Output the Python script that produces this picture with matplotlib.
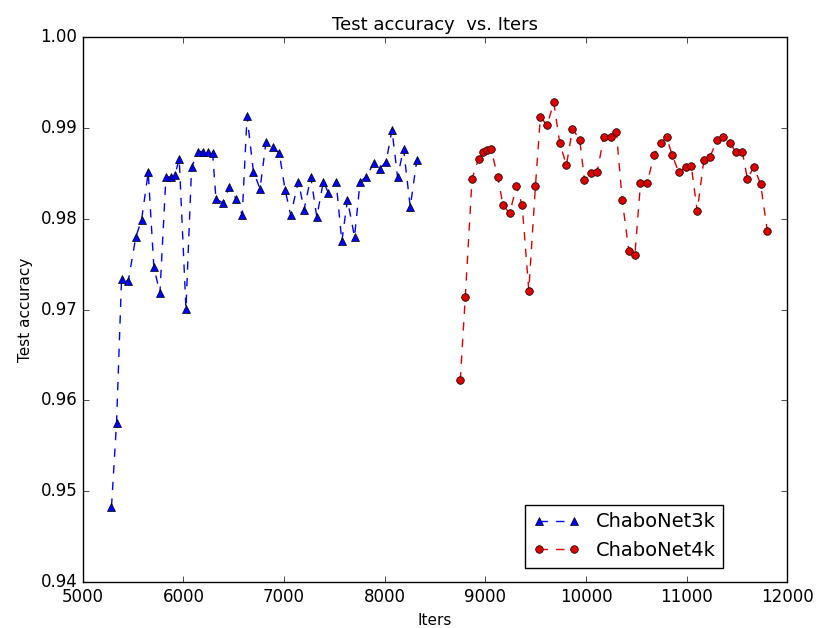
import matplotlib
matplotlib.use("Agg")
import matplotlib.pyplot as plt
from matplotlib.ticker import FormatStrFormatter

iters_3k = [5285, 5335, 5385, 5451, 5527, 5584, 5650, 5706, 5766, 5826, 5872, 5915,
            5958, 6025, 6081, 6147, 6197, 6247, 6290, 6323, 6396, 6456, 6522, 6584,
            6632, 6695, 6761, 6821, 6887, 6953, 7010, 7066, 7142, 7199, 7266, 7325,
            7391, 7441, 7517, 7574, 7630, 7700, 7756, 7816, 7889, 7949, 8015, 8072,
            8128, 8187, 8254, 8320]
acc_3k = [0.9483, 0.9575, 0.9734, 0.9731, 0.9780, 0.9799, 0.9851, 0.9747, 0.9718,
          0.9846, 0.9846, 0.9848, 0.9866, 0.9701, 0.9857, 0.9874, 0.9874, 0.9874,
          0.9872, 0.9822, 0.9817, 0.9835, 0.9822, 0.9804, 0.9913, 0.9852, 0.9833,
          0.9885, 0.9879, 0.9872, 0.9832, 0.9804, 0.9841, 0.9810, 0.9846, 0.9802,
          0.9841, 0.9828, 0.9841, 0.9775, 0.9821, 0.9780, 0.9841, 0.9846, 0.9861,
          0.9855, 0.9863, 0.9898, 0.9846, 0.9877, 0.9813, 0.9865]

iters_4k = [8751, 8801, 8868, 8934, 8977, 9017, 9057, 9123, 9176, 9242, 9309, 9366,
            9432, 9498, 9547, 9614, 9680, 9740, 9806, 9866, 9938, 9985, 10052, 10112,
            10177, 10244, 10303, 10360, 10426, 10486, 10542, 10609, 10675, 10741,
            10801, 10857, 10923, 10990, 11047, 11106, 11172, 11232, 11305, 11365,
            11431, 11488, 11554, 11604, 11670, 11736, 11803]
acc_4k = [0.9622, 0.9714, 0.9844, 0.9866, 0.9874, 0.9876, 0.9877, 0.9846, 0.9815,
          0.9806, 0.9836, 0.9815, 0.9721, 0.9836, 0.9912, 0.9903, 0.9928, 0.9883,
          0.9859, 0.9899, 0.9887, 0.9843, 0.9850, 0.9852, 0.9890, 0.9890, 0.9895,
          0.9821, 0.9765, 0.9760, 0.9839, 0.9839, 0.9870, 0.9883, 0.9890, 0.9870,
          0.9851, 0.9857, 0.9858, 0.9808, 0.9865, 0.9868, 0.9887, 0.9890, 0.9883,
          0.9874, 0.9874, 0.9844, 0.9857, 0.9838, 0.9786]

plt.style.use("classic")
plt.rcParams["font.family"] = ["DejaVu Sans"]

fig = plt.figure(figsize=(8.2, 6.28), dpi=100, facecolor="white")
ax = fig.add_axes([0.101, 0.073, 0.859, 0.868])
ax.plot(iters_3k, acc_3k, "b^--", label="ChaboNet3k", markersize=5.5)
ax.plot(iters_4k, acc_4k, "o--", color="#dd0000", label="ChaboNet4k", markersize=5.5)
ax.set_xlim(5000, 12000)
ax.set_ylim(0.94, 1.00)
ax.yaxis.set_major_formatter(FormatStrFormatter("%.2f"))
ax.tick_params(labelsize=12)
ax.set_title("Test accuracy  vs. Iters", fontsize=13)
ax.set_xlabel("Iters", fontsize=11)
ax.set_ylabel("Test accuracy", fontsize=11)
ax.legend(loc="lower right", bbox_to_anchor=(0.909, 0.026), borderaxespad=0,
          fontsize=14, numpoints=2, handlelength=2.4)

fig.savefig("out.png", dpi=100, facecolor="white")
